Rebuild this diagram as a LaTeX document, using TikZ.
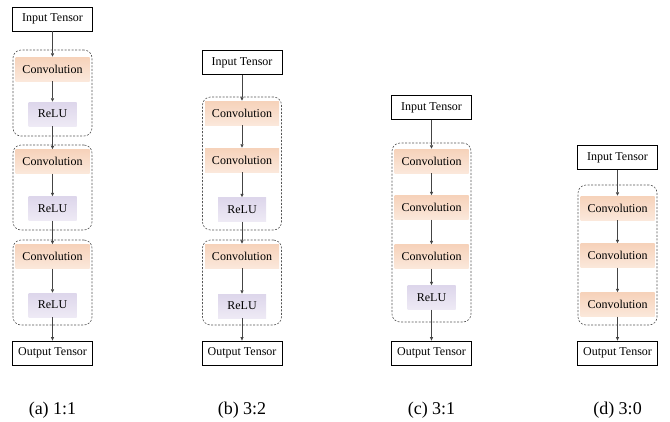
\documentclass[tikz,border=0pt]{standalone}
\usepackage{fontspec}
\setmainfont{Liberation Serif}
\usetikzlibrary{arrows.meta}
\definecolor{convtop}{HTML}{F6D2BA}
\definecolor{convbot}{HTML}{FBE8DB}
\definecolor{relutop}{HTML}{DDD6EB}
\definecolor{relubot}{HTML}{EEEAF5}
\definecolor{arrcol}{HTML}{444444}
\definecolor{dashcol}{HTML}{555555}
\tikzset{
  boxfont/.style={font=\fontsize{12}{14}\selectfont},
  tensor/.style={boxfont, draw=black, line width=0.7pt, fill=white, minimum width=80pt, minimum height=24pt, inner sep=0pt},
  convbox/.style={boxfont, top color=convtop, bottom color=convbot, draw=none, minimum width=74pt, minimum height=24pt, inner sep=0pt},
  relubox/.style={boxfont, top color=relutop, bottom color=relubot, draw=none, minimum width=48pt, minimum height=24pt, inner sep=0pt},
  grp/.style={draw=dashcol, dash pattern=on 2pt off 1.5pt, rounded corners=8pt, line width=0.6pt, minimum width=79pt, inner sep=0pt},
  flow/.style={draw=arrcol, line width=0.7pt, -{Triangle[length=3.5pt,width=3pt]}},
  captext/.style={font=\fontsize{18}{20}\selectfont}
}
\begin{document}
\begin{tikzpicture}[x=1pt,y=-1pt]
\useasboundingbox (0,0) rectangle (670,421);
% ---------- (a) 1:1 ----------
\node[grp, minimum height=86pt] (ga1) at (52.5,93) {};
\node[grp, minimum height=85pt] (ga2) at (52.5,187.5) {};
\node[grp, minimum height=85pt] (ga3) at (52.5,282.5) {};
\node[tensor] (ina) at (52.5,19) {Input Tensor};
\node[convbox] (ca1) at (52.5,69) {Convolution};
\node[relubox] (ra1) at (52.5,114) {ReLU};
\node[convbox] (ca2) at (52.5,161.5) {Convolution};
\node[relubox] (ra2) at (52.5,208.5) {ReLU};
\node[convbox] (ca3) at (52.5,256.5) {Convolution};
\node[relubox] (ra3) at (52.5,305) {ReLU};
\node[tensor] (outa) at (52.5,353) {Output Tensor};
\draw[flow] (ina) -- (ca1);
\draw[flow] (ca1) -- (ra1);
\draw[flow] (ra1) -- (ca2);
\draw[flow] (ca2) -- (ra2);
\draw[flow] (ra2) -- (ca3);
\draw[flow] (ca3) -- (ra3);
\draw[flow] (ra3) -- (outa);
\node[captext] (capa) at (52.5,410) {(a) 1:1};
% ---------- (b) 3:2 ----------
\node[grp, minimum height=133pt] (gb1) at (242,163.5) {};
\node[grp, minimum height=85pt] (gb2) at (242,282.5) {};
\node[tensor] (inb) at (242,62.5) {Input Tensor};
\node[convbox] (cb1) at (242,113) {Convolution};
\node[convbox] (cb2) at (242,160) {Convolution};
\node[relubox] (rb1) at (242,209.5) {ReLU};
\node[convbox] (cb3) at (242,256) {Convolution};
\node[relubox] (rb2) at (242,306) {ReLU};
\node[tensor] (outb) at (242,353) {Output Tensor};
\draw[flow] (inb) -- (cb1);
\draw[flow] (cb1) -- (cb2);
\draw[flow] (cb2) -- (rb1);
\draw[flow] (rb1) -- (cb3);
\draw[flow] (cb3) -- (rb2);
\draw[flow] (rb2) -- (outb);
\node[captext] (capb) at (242,410) {(b) 3:2};
% ---------- (c) 3:1 ----------
\node[grp, minimum height=179pt] (gc1) at (431.5,232.5) {};
\node[tensor] (inc) at (431.5,107.5) {Input Tensor};
\node[convbox] (cc1) at (431.5,161) {Convolution};
\node[convbox] (cc2) at (431.5,207.5) {Convolution};
\node[convbox] (cc3) at (431.5,256.5) {Convolution};
\node[relubox] (rc1) at (431.5,297.5) {ReLU};
\node[tensor] (outc) at (431.5,353) {Output Tensor};
\draw[flow] (inc) -- (cc1);
\draw[flow] (cc1) -- (cc2);
\draw[flow] (cc2) -- (cc3);
\draw[flow] (cc3) -- (rc1);
\draw[flow] (rc1) -- (outc);
\node[captext] (capc) at (431.5,410) {(c) 3:1};
% ---------- (d) 3:0 ----------
\node[grp, minimum height=140pt] (gd1) at (617.5,255) {};
\node[tensor] (ind) at (617.5,157.5) {Input Tensor};
\node[convbox] (cd1) at (617.5,208) {Convolution};
\node[convbox] (cd2) at (617.5,255.5) {Convolution};
\node[convbox] (cd3) at (617.5,304.5) {Convolution};
\node[tensor] (outd) at (617.5,353) {Output Tensor};
\draw[flow] (ind) -- (cd1);
\draw[flow] (cd1) -- (cd2);
\draw[flow] (cd2) -- (cd3);
\draw[flow] (cd3) -- (outd);
\node[captext] (capd) at (617.5,410) {(d) 3:0};
\end{tikzpicture}
\end{document}
